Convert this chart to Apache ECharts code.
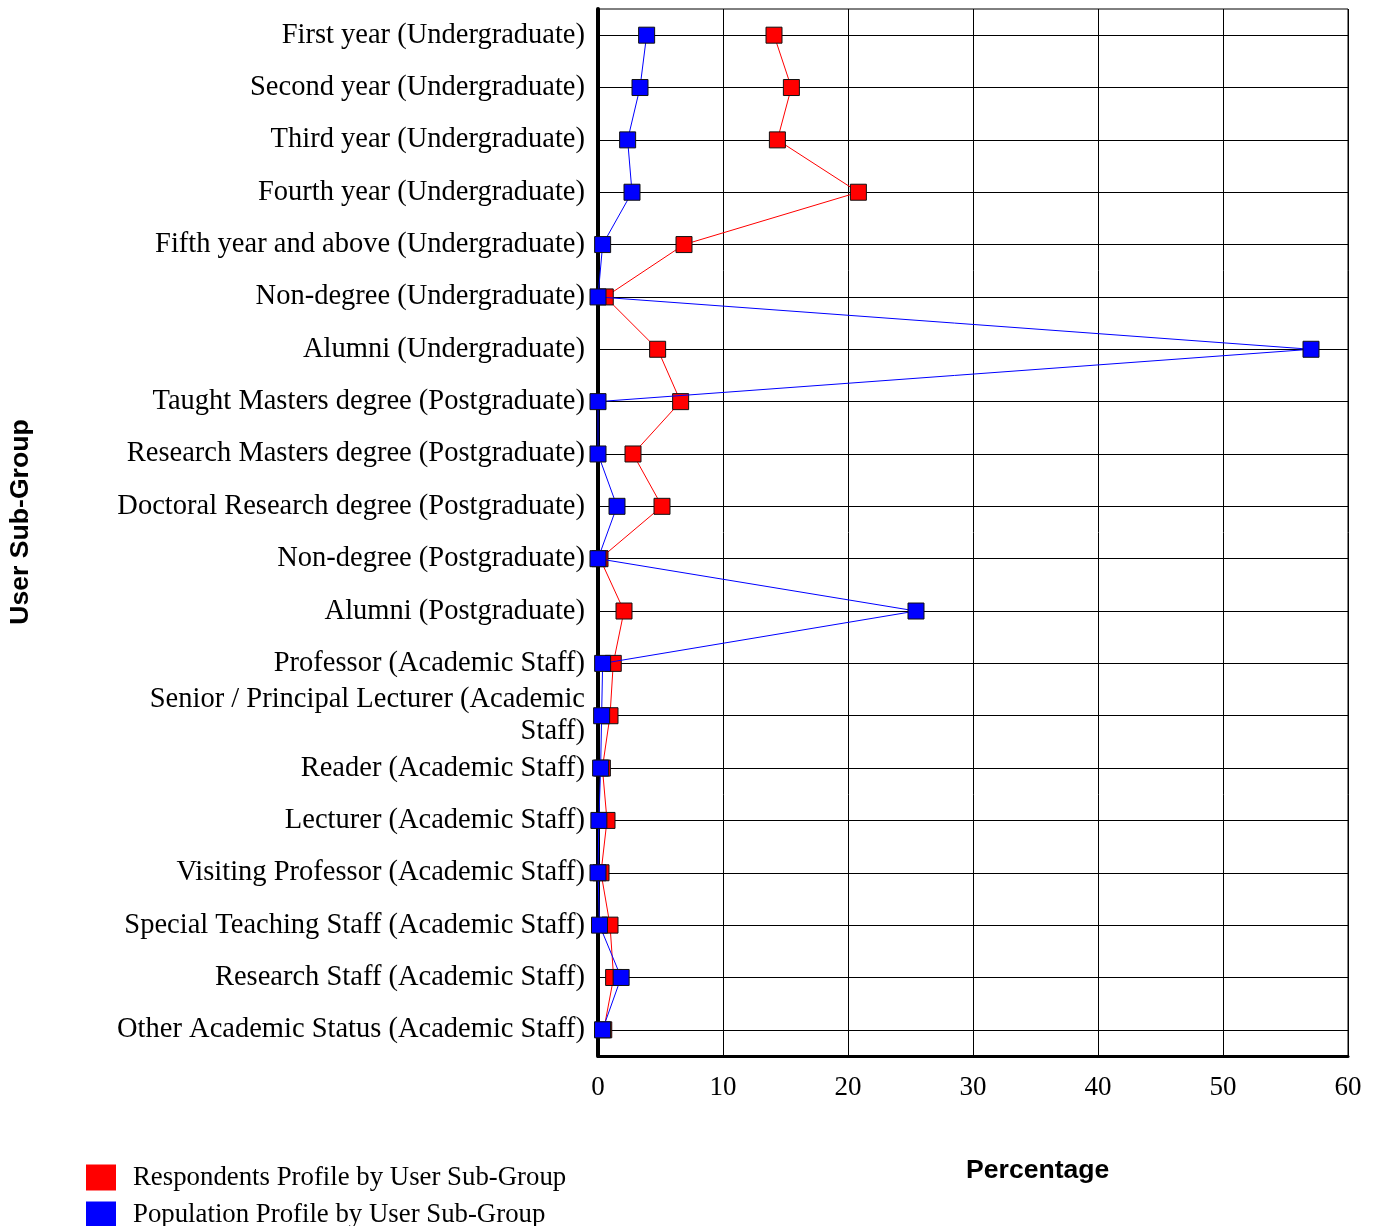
<!DOCTYPE html>
<html>
<head>
<meta charset="utf-8">
<script src="https://cdn.jsdelivr.net/npm/echarts@6/dist/echarts.min.js"></script>
<style>html,body{margin:0;padding:0;background:#fff;}#chart{width:1376px;height:1226px;}</style>
</head>
<body>
<div id="chart"></div>
<script>
var categories = [
  "First year (Undergraduate)",
  "Second year (Undergraduate)",
  "Third year (Undergraduate)",
  "Fourth year (Undergraduate)",
  "Fifth year and above (Undergraduate)",
  "Non-degree (Undergraduate)",
  "Alumni (Undergraduate)",
  "Taught Masters degree (Postgraduate)",
  "Research Masters degree (Postgraduate)",
  "Doctoral Research degree (Postgraduate)",
  "Non-degree (Postgraduate)",
  "Alumni (Postgraduate)",
  "Professor (Academic Staff)",
  "Senior / Principal Lecturer (Academic Staff)",
  "Reader (Academic Staff)",
  "Lecturer (Academic Staff)",
  "Visiting Professor (Academic Staff)",
  "Special Teaching Staff (Academic Staff)",
  "Research Staff (Academic Staff)",
  "Other Academic Status (Academic Staff)"
];
var respondents = [14.08, 15.47, 14.35, 20.83, 6.88, 0.58, 4.77, 6.61, 2.8, 5.12, 0.16, 2.08, 1.22, 0.96, 0.35, 0.72, 0.24, 0.96, 1.25, 0.46];
var population = [3.89, 3.36, 2.37, 2.72, 0.37, 0.0, 57.04, 0.0, 0.0, 1.52, 0.0, 25.44, 0.37, 0.29, 0.21, 0.07, 0.0, 0.12, 1.85, 0.36];
var xTicks = [0, 10, 20, 30, 40, 50, 60];

var chart = echarts.init(document.getElementById('chart'), null, {renderer: 'canvas'});
var serif = '"Liberation Serif", "Times New Roman", serif';
var sans = '"Liberation Sans", Arial, sans-serif';

var option = {
  animation: false,
  backgroundColor: '#fff',
  grid: {left: 598, right: 28, top: 9, bottom: 170, show: true, borderColor: '#000', borderWidth: 1, containLabel: false},
  title: {
    text: 'Percentage', left: 966, top: 1157, padding: 0,
    textStyle: {fontFamily: sans, fontWeight: 'bold', fontSize: 26.6, color: '#000'}
  },
  graphic: [{
    type: 'text', x: 21, y: 522, rotation: Math.PI / 2,
    style: {text: 'User Sub-Group', fontFamily: sans, fontWeight: 'bold', fontSize: 26.6, fill: '#000', align: 'center', verticalAlign: 'middle'}
  }],
  legend: {
    orient: 'vertical', left: 86, top: 1164, height: 80, padding: 0,
    itemWidth: 30, itemHeight: 26, itemGap: 10,
    icon: 'rect',
    itemStyle: {borderWidth: 0},
    data: ['Respondents Profile by User Sub-Group', 'Population Profile by User Sub-Group'],
    textStyle: {fontFamily: serif, fontSize: 26.8, color: '#000', padding: [6, 0, 0, 12]}
  },
  xAxis: {
    type: 'value', min: xTicks[0], max: xTicks[xTicks.length - 1], interval: 10,
    axisLine: {show: true, onZero: false, lineStyle: {color: '#000', width: 3}},
    axisTick: {show: false},
    splitLine: {show: true, lineStyle: {color: '#000', width: 1}},
    axisLabel: {fontFamily: serif, fontSize: 27, color: '#000', margin: 18}
  },
  yAxis: {
    type: 'category', inverse: true, data: categories,
    axisLine: {show: true, lineStyle: {color: '#000', width: 4}},
    axisTick: {show: false},
    splitLine: {show: false},
    axisLabel: {
      fontFamily: serif, fontSize: 28.5, color: '#000', margin: 13, lineHeight: 32, interval: 0,
      padding: [4, 0, 0, 0],
      formatter: function (v) {
        if (v.length > 40) { var i = v.lastIndexOf(' '); return v.slice(0, i) + '\n' + v.slice(i + 1); }
        return v;
      }
    }
  },
  series: [
    {
      name: 'Respondents Profile by User Sub-Group', type: 'line', data: respondents,
      symbol: 'rect', symbolSize: 16, z: 3,
      itemStyle: {color: '#ff0000', borderColor: '#111', borderWidth: 1},
      lineStyle: {color: '#ff0000', width: 1},
      markLine: {
        silent: true, symbol: 'none', label: {show: false}, z: 1,
        lineStyle: {color: '#000', width: 1, type: 'solid'},
        data: categories.map(function (c) { return {yAxis: c}; })
      }
    },
    {
      name: 'Population Profile by User Sub-Group', type: 'line', data: population,
      symbol: 'rect', symbolSize: 16, z: 4,
      itemStyle: {color: '#0000ff', borderColor: '#111', borderWidth: 1},
      lineStyle: {color: '#0000ff', width: 1}
    }
  ]
};
chart.setOption(option);
</script>
</body>
</html>
